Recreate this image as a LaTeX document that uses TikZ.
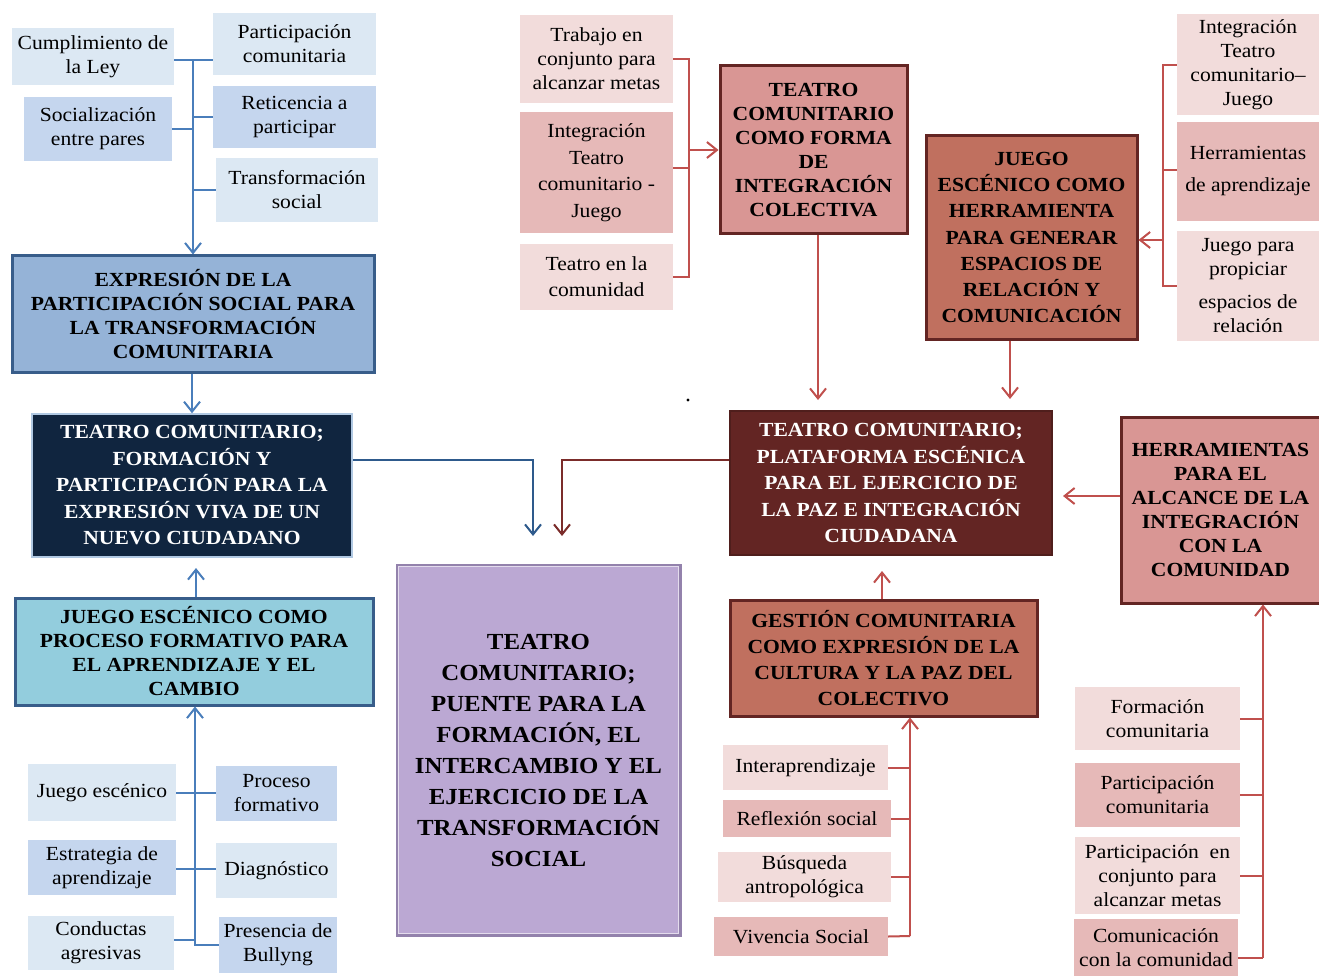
\documentclass[tikz,border=0pt]{standalone}
\usepackage{fontspec}
\setmainfont{Liberation Serif}[FakeStretch=1.08]
\usetikzlibrary{arrows.meta}
\definecolor{lblue}{HTML}{DCE8F3}
\definecolor{mblue}{HTML}{C5D6EE}
\definecolor{bline}{HTML}{4A7EBB}
\definecolor{bdark}{HTML}{2E5A8C}
\definecolor{exfill}{HTML}{95B3D7}
\definecolor{bborder}{HTML}{385D8A}
\definecolor{navy}{HTML}{10253F}
\definecolor{cyanf}{HTML}{93CDDD}
\definecolor{purp}{HTML}{BBA8D3}
\definecolor{purpb}{HTML}{9382AC}
\definecolor{lpink}{HTML}{F2DCDB}
\definecolor{mpink}{HTML}{E6B9B8}
\definecolor{rose}{HTML}{D99694}
\definecolor{terra}{HTML}{C0705F}
\definecolor{maroon}{HTML}{632523}
\definecolor{rline}{HTML}{C0504D}
\definecolor{rdark}{HTML}{7B2C2A}
\tikzset{
  base/.style={inner sep=1pt, align=center, text=black},
  sm/.style={base, font=\fontsize{20}{24}\selectfont},
  bd/.style={base, font=\bfseries\fontsize{20}{24}\selectfont, line width=3pt},
  lb/.style={sm, fill=lblue},
  mb/.style={sm, fill=mblue},
  lp/.style={sm, fill=lpink},
  mp/.style={sm, fill=mpink},
  conn/.style={line width=2pt},
  arr/.style={conn, -{Straight Barb[length=10pt,width=16pt]}},
}
\begin{document}
\begin{tikzpicture}[x=1pt,y=-1pt]
\fill[white] (0,0) rectangle (1319,976);
\useasboundingbox (0,0) rectangle (1319,976);

% ---------- top-left blue cluster
\node[lb, minimum width=162, minimum height=57] (cl) at (93,56.5) {Cumplimiento de\\la Ley};
\node[lb, minimum width=163, minimum height=62] (pc) at (294.5,44) {Participación\\comunitaria};
\node[mb, minimum width=148, minimum height=64] (so) at (98,129) {Socialización\\entre pares};
\node[mb, minimum width=163, minimum height=62] (re) at (294.5,117) {Reticencia a\\participar};
\node[lb, minimum width=162, minimum height=64] (tr) at (297,190) {Transformación\\social};

\node[bd, fill=exfill, draw=bborder, minimum width=362, minimum height=116] (ex) at (193,314)
  {EXPRESIÓN DE LA\\PARTICIPACIÓN SOCIAL PARA\\LA TRANSFORMACIÓN\\COMUNITARIA};

\coordinate (b1) at (193,60);
\draw[conn, bline] (cl.east |- b1) -- (b1) -- (pc.west |- b1);
\draw[conn, bline] (so.east) -- (so.east -| b1);
\draw[conn, bline] (re.west) -- (re.west -| b1);
\draw[conn, bline] (tr.west) -- (tr.west -| b1);
\draw[arr, bline] (b1) -- (ex.north -| b1);

% ---------- navy box
\node[bd, fill=navy, draw=lblue!70!bline, line width=1.5pt, text=white,
  font=\bfseries\fontsize{20}{26.5}\selectfont, minimum width=320, minimum height=143] (nv) at (192,485.5)
  {TEATRO COMUNITARIO;\\FORMACIÓN Y\\PARTICIPACIÓN PARA LA\\EXPRESIÓN VIVA DE UN\\NUEVO CIUDADANO};
\draw[arr, bline] (ex.south -| nv.north) -- (nv.north);

% ---------- juego escenico (cyan)
\node[bd, fill=cyanf, draw=bborder, minimum width=358, minimum height=107] (js) at (194,651.5)
  {JUEGO ESCÉNICO COMO\\PROCESO FORMATIVO PARA\\EL APRENDIZAJE Y EL\\CAMBIO};
\coordinate (t1) at (196,568);
\draw[arr, bline] (js.north -| t1) -- (t1);

% ---------- bottom-left cluster
\node[lb, minimum width=148, minimum height=57] (je) at (102,792.5) {Juego escénico};
\node[mb, minimum width=121, minimum height=55] (pf) at (276.5,793.5) {Proceso\\formativo};
\node[mb, minimum width=148, minimum height=55] (ea) at (102,867.5) {Estrategia de\\aprendizaje};
\node[lb, minimum width=121, minimum height=55] (dg) at (276.5,870.5) {Diagnóstico};
\node[lb, minimum width=146, minimum height=54] (ca) at (101,943) {Conductas\\agresivas};
\node[mb, minimum width=118, minimum height=56] (pb) at (278,945) {Presencia de\\Bullyng};

\coordinate (b2) at (195,940);
\coordinate (e1) at (195,869);
\coordinate (e0) at (195,793);
\draw[conn, bline] (je.east |- e0) -- (e0) -- (pf.west |- e0);
\draw[conn, bline] (ea.east |- e1) -- (e1) -- (dg.west |- e1);
\draw[conn, bline] (ca.east |- b2) -- (b2) -- (b2 |- pb.west) -- (pb.west);
\draw[arr, bline] (b2) -- (js.south -| b2);

% ---------- purple center
\node[base, fill=purp, draw=purpb, line width=3pt, minimum width=283, minimum height=370,
  font=\bfseries\fontsize{23}{31}\selectfont] (pu) at (538.5,750)
  {TEATRO\\COMUNITARIO;\\PUENTE PARA LA\\FORMACIÓN, EL\\INTERCAMBIO Y EL\\EJERCICIO DE LA\\TRANSFORMACIÓN\\SOCIAL};
\draw[white!60!purp, line width=1pt] ([shift={(3pt,-3pt)}]pu.north west) rectangle ([shift={(-3pt,3pt)}]pu.south east);

% ---------- top-middle red cluster
\node[lp, minimum width=153, minimum height=88] (tc) at (596.5,59) {Trabajo en\\conjunto para\\alcanzar metas};
\node[mp, font=\fontsize{20}{26.5}\selectfont, minimum width=153, minimum height=121] (it) at (596.5,172.5)
  {Integración\\Teatro\\comunitario -\\Juego};
\node[lp, font=\fontsize{20}{26}\selectfont, minimum width=153, minimum height=66] (tl) at (596.5,277) {Teatro en la\\comunidad};

\node[bd, fill=rose, draw=maroon, minimum width=187, minimum height=168] (fc) at (813.5,150)
  {TEATRO\\COMUNITARIO\\COMO FORMA\\DE\\INTEGRACIÓN\\COLECTIVA};

\coordinate (r1) at (689,150);
\coordinate (r1b) at (689,168);
\draw[conn, rline] (tc.east) -- (tc.east -| r1) -- (tl.east -| r1) -- (tl.east);
\draw[conn, rline] (it.east |- r1b) -- (r1b);
\draw[arr, rline] (r1) -- (fc.west);

% ---------- juego escenico herramienta
\node[bd, fill=terra, draw=maroon, font=\bfseries\fontsize{20}{26.3}\selectfont,
  minimum width=211, minimum height=203] (jh) at (1031.5,237.5)
  {JUEGO\\ESCÉNICO COMO\\HERRAMIENTA\\PARA GENERAR\\ESPACIOS DE\\RELACIÓN Y\\COMUNICACIÓN};

% ---------- right-top cluster
\node[lp, minimum width=142, minimum height=101] (ri) at (1248,64.5) {Integración\\Teatro\\comunitario–\\Juego};
\node[mp, font=\fontsize{20}{32}\selectfont, minimum width=142, minimum height=99] (rh) at (1248,171.5) {Herramientas\\de aprendizaje};
\node[lp, minimum width=142, minimum height=110] (rj) at (1248,286) {Juego para\\propiciar\\[9pt]espacios de\\relación};

\coordinate (r2) at (1163,240);
\coordinate (r2a) at (1163,65);
\coordinate (r2b) at (1163,170);
\draw[conn, rline] (ri.west |- r2a) -- (r2a) -- (r2 |- rj.west) -- (rj.west);
\draw[conn, rline] (rh.west |- r2b) -- (r2b);
\draw[arr, rline] (r2) -- (jh.east |- r2);

% ---------- plataforma
\node[bd, fill=maroon, draw=maroon!80!black, line width=1.5pt, text=white,
  font=\bfseries\fontsize{20}{26.5}\selectfont, minimum width=322, minimum height=144] (pl) at (891,483)
  {TEATRO COMUNITARIO;\\PLATAFORMA ESCÉNICA\\PARA EL EJERCICIO DE\\LA PAZ E INTEGRACIÓN\\CIUDADANA};

\coordinate (d1) at (818,400);
\coordinate (d2) at (1010,399);
\draw[arr, rline] (fc.south -| d1) -- (d1);
\draw[arr, rline] (jh.south -| d2) -- (d2);

% ---------- connectors into purple area
\coordinate (j1) at (533,460);
\coordinate (p1) at (533,536);
\coordinate (j2) at (562,460);
\coordinate (p2) at (562,536);
\draw[arr, bdark] (nv.east |- j1) -- (j1) -- (p1);
\draw[arr, rdark] (pl.west |- j2) -- (j2) -- (p2);

% ---------- herramientas
\node[bd, fill=rose, draw=maroon, minimum width=199, minimum height=186] (hc) at (1220.5,510)
  {HERRAMIENTAS\\PARA EL\\ALCANCE DE LA\\INTEGRACIÓN\\CON LA\\COMUNIDAD};
\coordinate (h1) at (1063,496);
\draw[arr, rline] (hc.west |- h1) -- (h1);

% ---------- gestion
\node[bd, fill=terra, draw=maroon, font=\bfseries\fontsize{20}{26}\selectfont,
  minimum width=307, minimum height=116] (ge) at (883.5,658)
  {GESTIÓN COMUNITARIA\\COMO EXPRESIÓN DE LA\\CULTURA Y LA PAZ DEL\\COLECTIVO};
\coordinate (g1) at (882,571);
\draw[arr, rline] (ge.north -| g1) -- (g1);

% ---------- bottom-middle cluster
\node[lp, minimum width=165, minimum height=45] (ia) at (805.5,767.5) {Interaprendizaje};
\node[mp, minimum width=168, minimum height=37] (rs) at (807,818.5) {Reflexión social};
\node[lp, minimum width=173, minimum height=50] (ba) at (804.5,877) {Búsqueda\\antropológica};
\node[mp, minimum width=174, minimum height=39] (vs) at (801,936.5) {Vivencia Social};

\coordinate (b3) at (910,936);
\draw[conn, rline] (ia.east) -- (ia.east -| b3);
\draw[conn, rline] (rs.east) -- (rs.east -| b3);
\draw[conn, rline] (ba.east) -- (ba.east -| b3);
\draw[conn, rline] (vs.east) -- (b3);
\draw[arr, rline] (b3) -- (ge.south -| b3);

% ---------- bottom-right cluster
\node[lp, minimum width=165, minimum height=63] (fo) at (1157.5,718.5) {Formación\\comunitaria};
\node[mp, minimum width=165, minimum height=64] (pc2) at (1157.5,795) {Participación\\comunitaria};
\node[lp, minimum width=165, minimum height=77] (pe) at (1157.5,875.5) {Participación~ en\\conjunto para\\alcanzar metas};
\node[mp, minimum width=164, minimum height=57] (cc) at (1156,947.5) {Comunicación\\con la comunidad};

\coordinate (b4) at (1263,958);
\draw[conn, rline] (fo.east) -- (fo.east -| b4);
\draw[conn, rline] (pc2.east) -- (pc2.east -| b4);
\draw[conn, rline] (pe.east) -- (pe.east -| b4);
\draw[conn, rline] (cc.east |- b4) -- (b4);
\draw[arr, rline] (b4) -- (hc.south -| b4);

% stray dot
\fill (688,400) circle (1.6pt);
\end{tikzpicture}
\end{document}
